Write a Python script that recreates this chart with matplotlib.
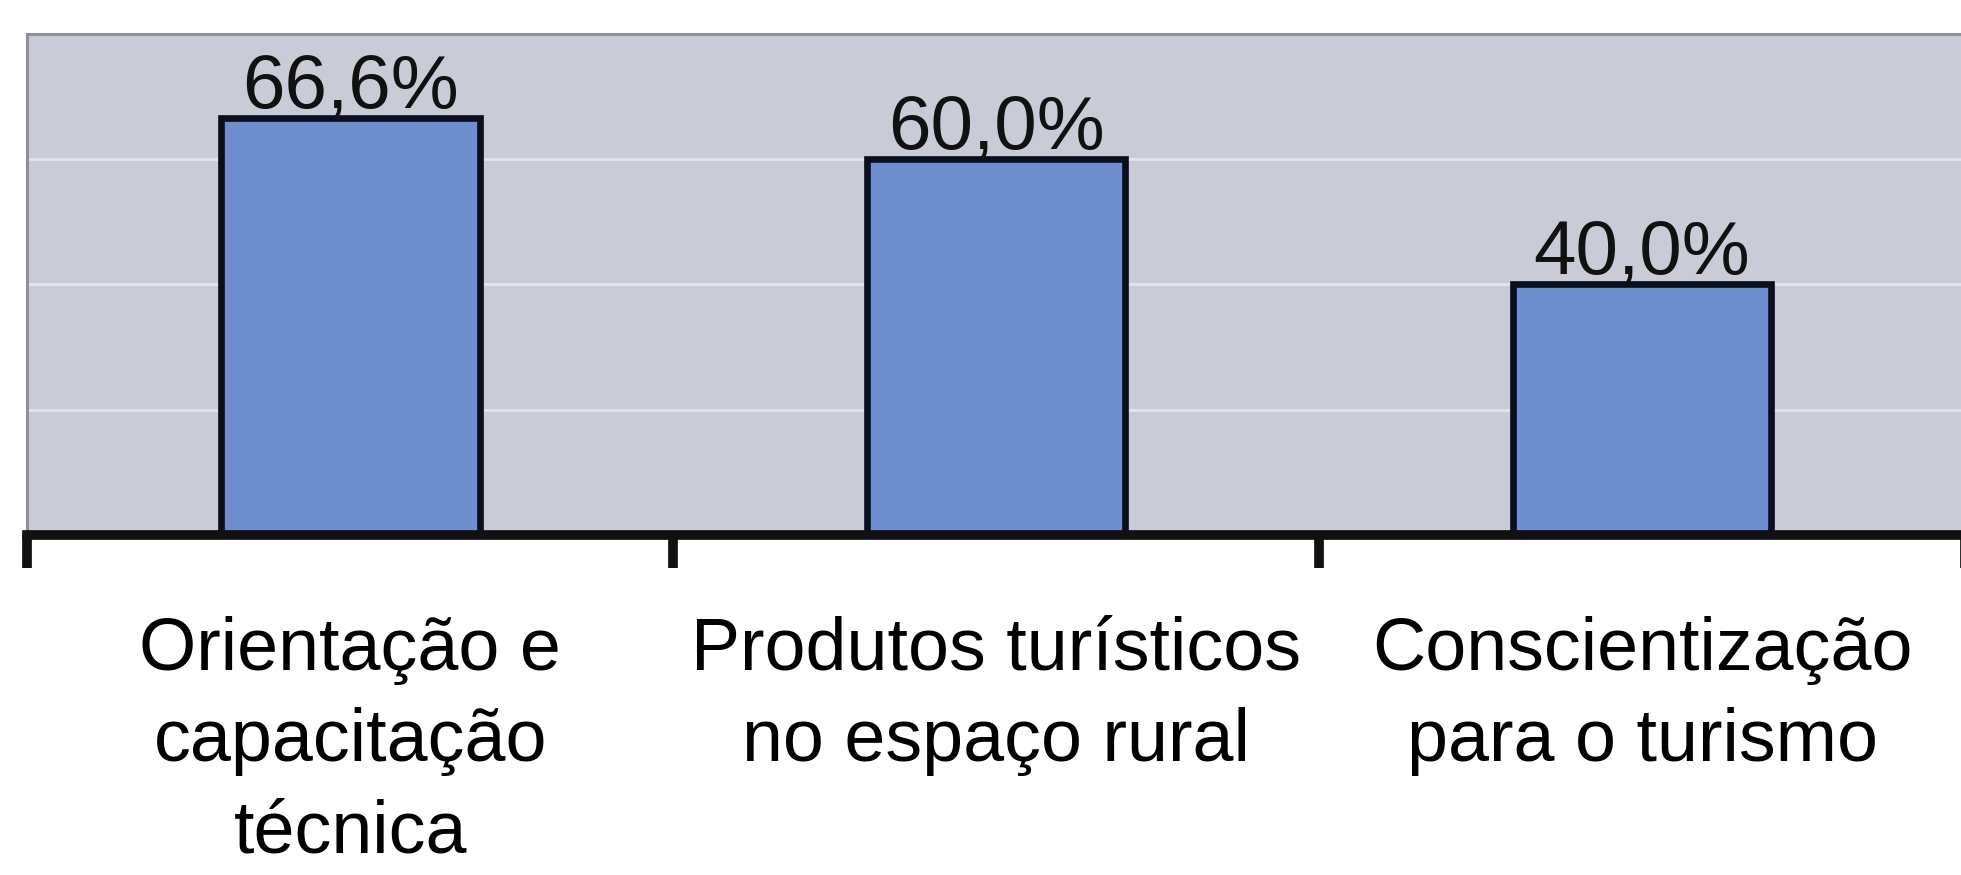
import matplotlib
matplotlib.use("Agg")
import matplotlib.pyplot as plt
from matplotlib.ticker import FixedLocator

categories = ["Orientação e\ncapacitação\ntécnica",
              "Produtos turísticos\nno espaço rural",
              "Conscientização\npara o turismo"]
values = [66.6, 60.0, 40.0]
value_labels = ["66,6%", "60,0%", "40,0%"]
grid_values = [20, 40, 60]

plt.rcParams['font.family'] = ['Liberation Sans', 'DejaVu Sans']

fig = plt.figure(figsize=(19.61, 8.75), dpi=100)
fig.patch.set_facecolor('white')
ax = fig.add_axes([0.014, 0.3886, 0.988, 0.5726])
ax.set_facecolor('#C9CBD6')

x = list(range(len(categories)))
ax.bar(x, values, width=0.4, color='#6E8ECF', edgecolor='#0A0F1E',
       linewidth=4.8, zorder=3)

ax.set_xlim(-0.5, 2.5)
ax.set_ylim(0, 80)

for g in grid_values:
    ax.axhline(g, color='#E3E5EC', linewidth=2.0, zorder=1)

for xi, v, lab in zip(x, values, value_labels):
    ax.annotate(lab, xy=(xi, v), xytext=(0, 7), textcoords='offset points',
                ha='center', va='baseline', fontsize=55, color='#111111', zorder=4)

for xi, lab in zip(x, categories):
    ax.annotate(lab, xy=(xi, 0), xycoords=('data', 'axes fraction'),
                xytext=(0, -58), textcoords='offset points',
                ha='center', va='top', fontsize=53, color='black',
                multialignment='center', linespacing=1.42)

ax.set_yticks([])
ax.set_xticks([])
ax.xaxis.set_minor_locator(FixedLocator([-0.5, 0.5, 1.5, 2.5]))
ax.tick_params(axis='x', which='minor', length=24, width=7, color='#111111',
               direction='out', labelbottom=False)

ax.spines['bottom'].set_color('#111111')
ax.spines['bottom'].set_linewidth(7)
ax.spines['bottom'].set_zorder(5)
for s in ['top', 'left', 'right']:
    ax.spines[s].set_color('#8E9096')
    ax.spines[s].set_linewidth(2.2)

fig.savefig('out.png', dpi=100, facecolor='white')
